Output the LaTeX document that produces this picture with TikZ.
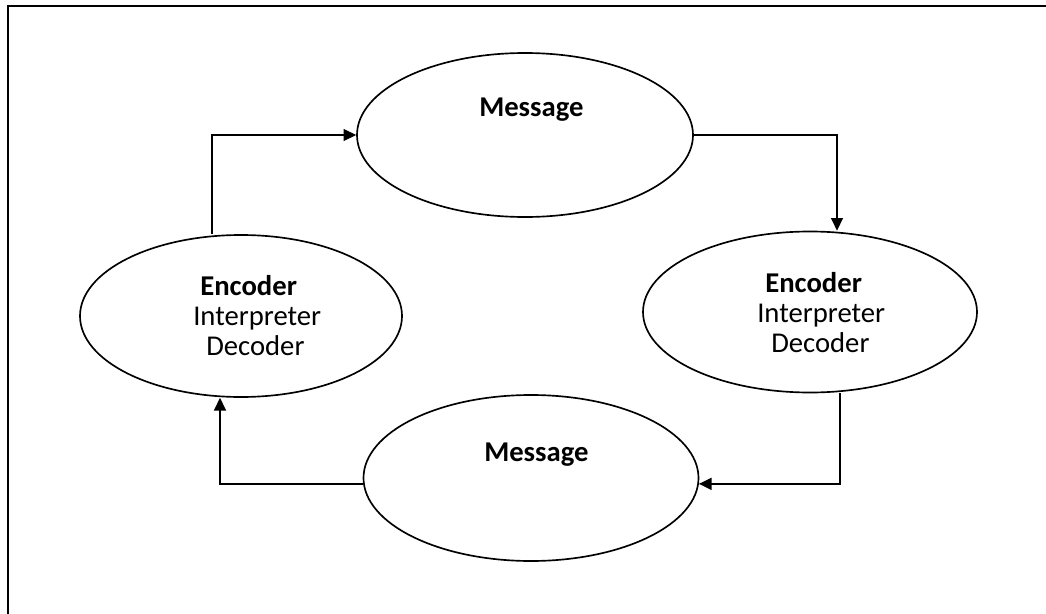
\documentclass[tikz,border=0pt]{standalone}
\usepackage{fontspec}
\setmainfont{Carlito}
\usetikzlibrary{shapes.geometric,arrows.meta}
\begin{document}
\begin{tikzpicture}[x=0.75pt,y=-0.75pt,
  oval/.style={draw,ellipse,line width=1.25pt,inner sep=0pt},
  txt/.style={anchor=base west,inner sep=0pt,font=\fontsize{21.5}{25}\selectfont},
  conn/.style={line width=1pt,-{Triangle[length=9.5pt,width=9pt]}},
  frame/.style={line width=1.7pt}]
\useasboundingbox (0,0) rectangle (1046,614);
% frame (top and left edges only)
\coordinate (fa) at (1046,6);
\coordinate (fb) at (8,6);
\coordinate (fc) at (8,614);
\draw[frame] (fa) -- (fb) -- (fc);
% ellipses
\node[oval,minimum width=252pt,minimum height=123pt] (tm) at (525,135) {};
\node[oval,minimum width=241.5pt,minimum height=121.5pt] (le) at (241,316) {};
\node[oval,minimum width=250.5pt,minimum height=120.75pt] (rm) at (810,312) {};
\node[oval,minimum width=251.25pt,minimum height=124.5pt] (bm) at (531,478) {};
% texts
\node[txt] (tmt) at (479,116) {\textbf{Message}};
\node[txt] (bmt) at (484,461) {\textbf{Message}};
\node[txt] (le1) at (200,295) {\textbf{Encoder}};
\node[txt] (le2) at (193,325) {Interpreter};
\node[txt] (le3) at (206,355) {Decoder};
\node[txt] (rm1) at (765,292) {\textbf{Encoder}};
\node[txt] (rm2) at (757,322) {Interpreter};
\node[txt] (rm3) at (771,352) {Decoder};
% connectors
\draw[conn] (212,0 |- le.north) |- (tm.west);
\draw[conn] (tm.east) -| (837,0 |- rm.north);
\draw[conn] (840,0 |- rm.south) |- (bm.-2.5);
\draw[conn] (bm.182.5) -| (220,0 |- le.south);
\end{tikzpicture}
\end{document}
